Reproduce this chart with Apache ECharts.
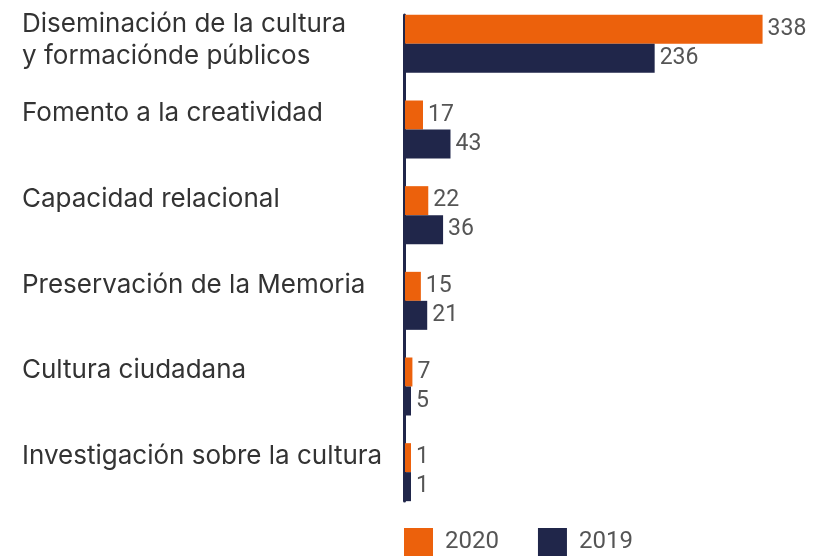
<!DOCTYPE html>
<html>
<head>
<meta charset="utf-8">
<script src="https://cdn.jsdelivr.net/npm/echarts@6/dist/echarts.min.js"></script>
<style>
  html, body { margin: 0; padding: 0; background: #ffffff; }
  #chart { width: 814px; height: 556px; }
</style>
</head>
<body>
<div id="chart"></div>
<script>
// Categories (top to bottom) and yearly values
const categories = [
  'Diseminación de la cultura\ny formaciónde públicos',
  'Fomento a la creatividad',
  'Capacidad relacional',
  'Preservación de la Memoria',
  'Cultura ciudadana',
  'Investigación sobre la cultura'
];
const values2020 = [338, 17, 22, 15, 7, 1];
const values2019 = [236, 43, 36, 21, 5, 1];
const seriesNames = ['2020', '2019'];

const ORANGE = '#EC610C';
const NAVY = '#20264A';
const FONT = 'Roboto, "Noto Sans", sans-serif';
const LABEL_FONT = 'Inter, Roboto, sans-serif';

const chart = echarts.init(document.getElementById('chart'), null, { renderer: 'canvas' });

// Category label: lines are drawn slightly above the band centre
function labelFormatter(value) {
  const lines = value.split('\n');
  if (lines.length > 1) {
    return lines.map(l => '{t|' + l + '}').join('\n') + '\n{z|}';
  }
  return '{t|' + value + '}\n{t| }';
}

const valueLabel = {
  show: true,
  position: 'right',
  distance: 5,
  color: '#555555',
  fontFamily: FONT,
  fontSize: 23
};

chart.setOption({
  animation: false,
  legend: {
    data: seriesNames,
    left: 404,
    top: 528,
    padding: 0,
    itemWidth: 29,
    itemHeight: 28,
    itemGap: 39,
    icon: 'rect',
    textStyle: { color: '#555555', fontFamily: FONT, fontSize: 24, padding: [0, 0, 0, 7] }
  },
  grid: [
    { left: 405, top: 1, width: 402, height: 514, containLabel: false },
    { left: 404, top: 15, width: 402, height: 486, containLabel: false }
  ],
  xAxis: [
    { type: 'value', gridIndex: 0, min: 0, max: 380, show: false },
    { type: 'value', gridIndex: 1, min: 0, max: 380, show: false }
  ],
  yAxis: [
    {
      type: 'category',
      gridIndex: 0,
      data: categories,
      inverse: true,
      axisLine: { show: false },
      axisTick: { show: false },
      axisLabel: {
        margin: 383,
        align: 'left',
        formatter: labelFormatter,
        rich: {
          t: { fontFamily: LABEL_FONT, fontSize: 26, color: '#333333', lineHeight: 32 },
          z: { fontSize: 1, lineHeight: 8 }
        }
      }
    },
    {
      // plain axis line along the bars
      type: 'category',
      gridIndex: 1,
      data: categories,
      axisLine: { show: true, lineStyle: { color: NAVY, width: 3 } },
      axisTick: { show: false },
      axisLabel: { show: false }
    }
  ],
  series: [
    {
      name: seriesNames[0],
      type: 'bar',
      xAxisIndex: 0,
      yAxisIndex: 0,
      data: values2020,
      barWidth: 29,
      barGap: '0%',
      barMinHeight: 6,
      itemStyle: { color: ORANGE },
      label: valueLabel
    },
    {
      name: seriesNames[1],
      type: 'bar',
      xAxisIndex: 0,
      yAxisIndex: 0,
      data: values2019,
      barWidth: 29,
      barGap: '0%',
      barMinHeight: 6,
      itemStyle: { color: NAVY },
      label: valueLabel
    }
  ]
});
</script>
</body>
</html>
